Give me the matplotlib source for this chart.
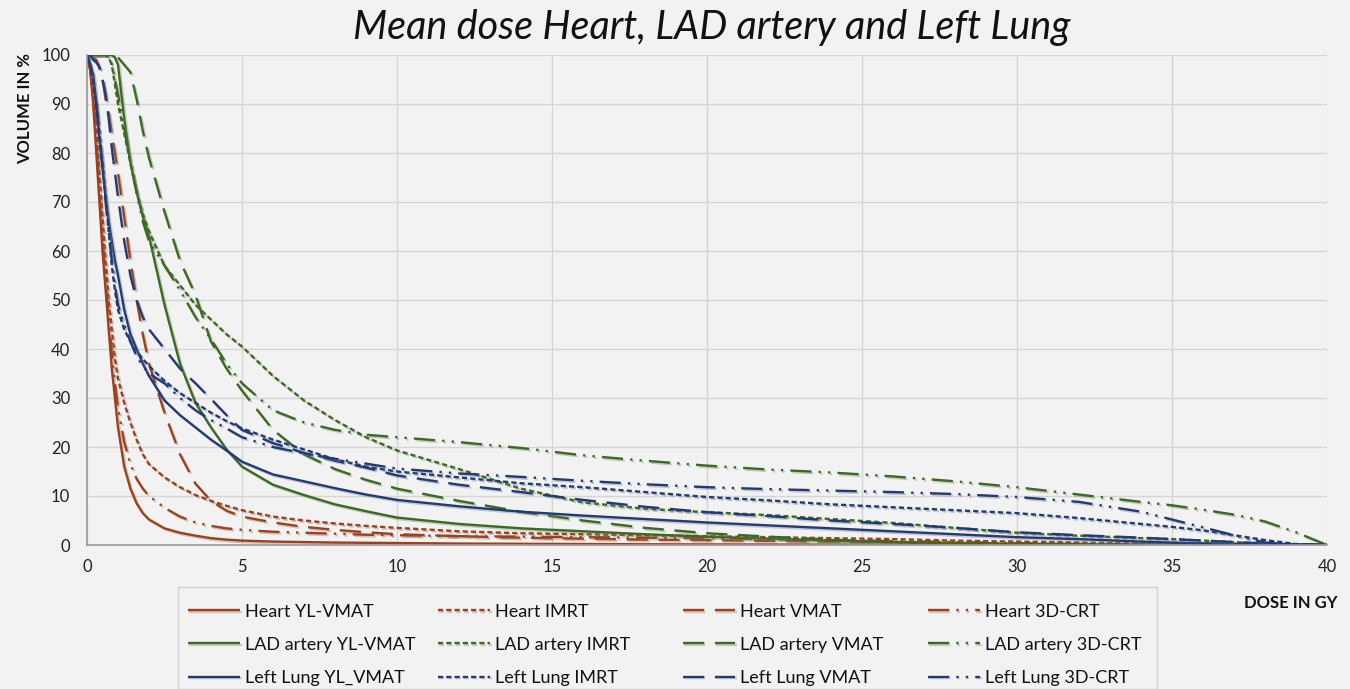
import matplotlib
matplotlib.use("Agg")
import matplotlib.pyplot as plt
import matplotlib.patheffects as pe
from matplotlib.patches import Rectangle

plt.rcParams['font.family'] = ['Lato', 'DejaVu Sans']

# ---------------- data ----------------
dose = [0, 0.1, 0.2, 0.3, 0.4, 0.5, 0.6, 0.7, 0.8, 0.9, 1.0, 1.2, 1.4, 1.6, 1.8, 2.0,
        2.5, 3, 3.5, 4, 4.5, 5, 6, 7, 8, 9, 10, 12, 14, 16, 18, 20, 22, 24, 26, 28,
        30, 32, 34, 35, 36, 37, 38, 39, 40]

heart_yl = [100, 97, 90, 80, 70, 60, 52, 44, 36, 30, 24, 16, 11.5, 8.5, 6.5, 5.2,
            3.4, 2.5, 1.9, 1.4, 1.1, 0.9, 0.7, 0.6, 0.5, 0.45, 0.4, 0.3, 0.25, 0.2, 0.15, 0.12, 0.1, 0.08, 0.05, 0.03,
            0.02, 0, 0, 0, 0, 0, 0, 0, 0]
heart_imrt = [100, 98, 93, 85, 76, 67, 58, 50, 44, 38, 34, 29, 25, 21.5, 18.5, 16.5,
              13.8, 11.8, 10.2, 9, 8, 7.1, 5.8, 5.0, 4.4, 3.9, 3.5, 2.8, 2.4, 2.2, 2.0, 1.8, 1.6, 1.4, 1.2, 0.9,
              0.7, 0.5, 0.3, 0.2, 0.15, 0.1, 0.05, 0, 0]
heart_vmat = [100, 100, 99.5, 99, 97.5, 95, 91, 88, 84, 80, 76, 67, 58, 50, 43, 37,
              27, 18.5, 12.5, 9, 7, 5.8, 4.6, 3.7, 3.1, 2.6, 2.2, 1.8, 1.5, 1.3, 1.1, 1.0, 0.85, 0.7, 0.55, 0.4,
              0.3, 0.2, 0.1, 0.05, 0, 0, 0, 0, 0]
heart_3d = [100, 97, 91, 82, 72, 62, 54, 46, 39, 33, 28, 21, 16.5, 13.5, 11.5, 10,
            7.6, 5.8, 4.6, 3.9, 3.4, 3.1, 2.7, 2.5, 2.3, 2.1, 2.0, 1.8, 1.7, 1.6, 1.5, 1.4, 1.2, 1.0, 0.8, 0.6,
            0.4, 0.2, 0.1, 0.05, 0, 0, 0, 0, 0]

lad_yl = [100, 100, 100, 100, 100, 100, 100, 100, 100, 99.5, 98, 87, 78, 72, 67, 63,
          49, 37, 29, 24, 19.5, 16, 12.3, 10.2, 8.3, 6.9, 5.6, 4.3, 3.4, 2.8, 2.2, 1.7, 1.3, 0.9, 0.6, 0.4,
          0.25, 0.15, 0.05, 0, 0, 0, 0, 0, 0]
lad_imrt = [100, 100, 100, 100, 100, 100, 100, 99.5, 98, 94, 90, 84, 78, 72, 67.5, 64,
            57, 53, 49, 46, 43, 40.5, 34.5, 29.5, 25.5, 22, 19.3, 15.5, 11.5, 8.7, 7.4, 6.7, 6.1, 5.3, 4.5, 3.5,
            2.5, 1.9, 1.4, 1.2, 0.9, 0.6, 0.3, 0.1, 0]
lad_vmat = [100, 100, 100, 100, 100, 100, 100, 100, 100, 100, 99.5, 98, 96.5, 91, 84.5, 79,
            68, 58, 51, 41.5, 36, 31.5, 23.5, 18.5, 15.5, 13.3, 11.5, 9, 6.8, 5, 3.5, 2.4, 1.7, 1.1, 0.6, 0.3,
            0.1, 0, 0, 0, 0, 0, 0, 0, 0]
lad_3d = [100, 100, 100, 100, 100, 100, 100, 99.5, 98, 95, 92, 85, 78, 72, 66, 62,
          57, 52, 46.5, 42, 37, 33, 27.5, 25, 23.5, 22.5, 22, 21, 19.8, 18.3, 17.2, 16.2, 15.4, 14.8, 14, 13,
          11.8, 10.3, 8.8, 8.1, 7.2, 6.2, 4.8, 2.6, 0]

lung_yl = [100, 98, 96, 90, 83, 77, 71, 66, 62, 58, 55, 48, 43, 40, 37, 34.5,
           29.5, 26.5, 24, 21.5, 19.3, 17, 14.4, 13, 11.6, 10.3, 9.2, 7.9, 6.8, 6, 5.3, 4.6, 4.0, 3.4, 2.8, 2.2,
           1.6, 1.2, 0.7, 0.5, 0.35, 0.25, 0.2, 0.1, 0]
lung_imrt = [100, 98, 95, 90, 84, 78, 71, 64, 57, 52, 48, 44, 41.5, 39.5, 38, 36.5,
             33.5, 31, 29, 27, 25.3, 23.8, 21.5, 19.5, 17.5, 16, 15, 13.8, 12.6, 11.8, 10.8, 9.8, 9.1, 8.3, 7.7, 7.1,
             6.5, 5.5, 4.3, 3.7, 3.0, 2.0, 1.0, 0.2, 0]
lung_vmat = [100, 100, 99, 98.5, 97.5, 95, 92, 87, 81, 76, 71, 62, 55, 50, 46.5, 44,
             40, 36, 33, 29.8, 26.5, 23.5, 20.8, 18.8, 17.2, 15.8, 14.2, 12.3, 10.8, 9.2, 7.8, 6.7, 5.9, 5, 4.3, 3.5,
             2.6, 2, 1.5, 1.2, 0.9, 0.6, 0.3, 0.1, 0]
lung_3d = [100, 98, 95, 90, 84, 77, 70, 64, 58, 53, 49, 45, 41.5, 38.5, 36.5, 35,
           33, 30, 27.5, 25.5, 23.8, 22, 20, 18.7, 17.6, 16.6, 15.6, 14.6, 13.9, 13.1, 12.4, 11.8, 11.4, 11.1, 10.8, 10.4,
           9.8, 8.8, 6.8, 5.2, 3.6, 2.0, 0.5, 0.1, 0]

labels = ["Heart YL-VMAT", "Heart IMRT", "Heart VMAT", "Heart 3D-CRT",
          "LAD artery YL-VMAT", "LAD artery IMRT", "LAD artery VMAT", "LAD artery 3D-CRT",
          "Left Lung YL_VMAT", "Left Lung IMRT", "Left Lung VMAT", "Left Lung 3D-CRT"]
x_ticks = [0, 5, 10, 15, 20, 25, 30, 35, 40]
y_ticks = [0, 10, 20, 30, 40, 50, 60, 70, 80, 90, 100]

# ---------------- style ----------------
BROWN = '#A0401A'
GREEN = '#3A6B1F'
BLUE = '#213A78'
styles = ['-', (0, (2.2, 1.3)), (0, (9, 4.5)), (0, (9, 3, 1, 3, 1, 3))]
BG = '#f2f2f2'

series = [heart_yl, heart_imrt, heart_vmat, heart_3d,
          lad_yl, lad_imrt, lad_vmat, lad_3d,
          lung_yl, lung_imrt, lung_vmat, lung_3d]
colors = [BROWN] * 4 + [GREEN] * 4 + [BLUE] * 4

fig = plt.figure(figsize=(13.5, 6.89), dpi=100, facecolor=BG)
ax = fig.add_axes([87 / 1350, 1 - 545 / 689, (1327 - 87) / 1350, (545 - 55) / 689])
ax.set_facecolor(BG)

shadow = [pe.SimpleLineShadow(offset=(1.2, -1.2), shadow_color='#777777', alpha=0.35), pe.Normal()]
handles = []
for i, (vals, col) in enumerate(zip(series, colors)):
    ln, = ax.plot(dose, vals, color=col, lw=1.7, linestyle=styles[i % 4],
                  label=labels[i], path_effects=shadow, solid_capstyle='butt', dash_capstyle='butt')
    handles.append(ln)

ax.set_xlim(0, 40)
ax.set_ylim(0, 100)
ax.set_xticks(x_ticks)
ax.set_yticks(y_ticks)
ax.tick_params(length=0, labelsize=12, colors='#222222')
ax.tick_params(axis='y', pad=12)
ax.tick_params(axis='x', pad=10)
ax.grid(True, color='#d5d5d5', lw=1)
ax.set_axisbelow(True)
for s in ['top', 'right']:
    ax.spines[s].set_visible(False)
for s in ['left', 'bottom']:
    ax.spines[s].set_color('#9a9a9a')
    ax.spines[s].set_linewidth(1.2)

fig.text(712 / 1350, 1 - 28 / 689, "Mean dose Heart, LAD artery and Left Lung",
         ha='center', va='center', fontsize=28.5, style='italic', color='#111111')
fig.text(25 / 1350, 1 - 108 / 689, "VOLUME IN %", rotation=90, ha='center', va='center',
         fontsize=12, fontweight='bold', color='#111111')
fig.text(1291 / 1350, 1 - 603 / 689, "DOSE IN GY", ha='center', va='center',
         fontsize=12, fontweight='bold', color='#111111')

# legend frame
fig.patches.append(Rectangle((178 / 1350, 0), (1157 - 178) / 1350, (689 - 587) / 689,
                             transform=fig.transFigure, facecolor=BG, edgecolor='#d0d0d0', lw=1))
col_x = [175, 425, 670, 915]
for c in range(4):
    hs = [handles[c], handles[c + 4], handles[c + 8]]
    leg = fig.legend(handles=hs, labels=[h.get_label() for h in hs], loc='upper left',
                     bbox_to_anchor=(col_x[c] / 1350, 1 - 591 / 689), frameon=False,
                     fontsize=13, handlelength=2.9, handletextpad=0.3, labelspacing=0.95,
                     borderpad=0.2)
    for t in leg.get_texts():
        t.set_color('#111111')

fig.savefig("out.png", dpi=100, facecolor=BG)
